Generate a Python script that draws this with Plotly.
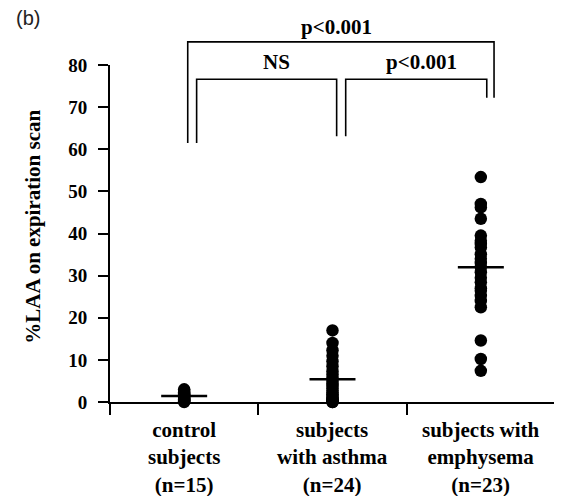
import plotly.graph_objects as go

# ---- data ----
categories = ["control<br>subjects<br>(n=15)",
              "subjects<br>with asthma<br>(n=24)",
              "subjects with<br>emphysema<br>(n=23)"]
control = [3.0, 2.6, 2.3, 2.0, 1.8, 1.6, 1.4, 1.2, 1.0, 0.8, 0.6, 0.5, 0.3, 0.2, 0.0]
asthma = [17.0, 14.0, 12.3, 11.0, 9.7, 8.5, 7.3, 6.5, 5.8, 5.0, 4.4, 3.8,
          3.2, 2.7, 2.2, 1.8, 1.4, 1.0, 0.7, 0.5, 0.3, 0.2, 0.0, 0.0]
emphysema = [53.4, 47.0, 46.2, 43.5, 39.5, 38.3, 37.5, 36.7, 35.1, 34.0, 33.0, 32.0,
             30.8, 29.5, 28.4, 27.0, 26.4, 25.2, 24.0, 22.5, 14.6, 10.2, 7.4]
group_means = [1.4, 5.4, 32.0]
y_ticks = [0, 10, 20, 30, 40, 50, 60, 70, 80]
y_title = "%LAA on expiration scan"
panel_label = "(b)"
sig_labels = ["p<0.001", "NS", "p<0.001"]

# ---- layout helpers ----
Y0, Y1 = 0, 80
cat_x = [0.5, 1.5, 2.5]
boundaries = [0, 1, 2, 3]


def yp(v):
    return (v - Y0) / (Y1 - Y0)


SERIF = "Liberation Serif"
fig = go.Figure()

for cx, vals in zip(cat_x, [control, asthma, emphysema]):
    fig.add_trace(go.Scatter(
        x=[cx] * len(vals), y=vals, mode="markers",
        marker=dict(color="black", size=12.5, line=dict(width=0)),
        cliponaxis=False, showlegend=False, hoverinfo="y"))

half = 0.155
for cx, m in zip(cat_x, group_means):
    fig.add_trace(go.Scatter(
        x=[cx - half, cx + half], y=[m, m], mode="lines",
        line=dict(color="black", width=2.5),
        cliponaxis=False, showlegend=False, hoverinfo="skip"))

# brackets: (x_left, x_right, y_top, y_left_bottom, y_right_bottom)
brackets = [
    (0.524, 2.589, 85.5, 61.5, 72.2),
    (0.584, 1.528, 76.6, 61.5, 63.1),
    (1.589, 2.540, 76.6, 63.1, 72.2),
]
for xl, xr, yt, ylb, yrb in brackets:
    fig.add_shape(type="path", xref="x", yref="paper",
                  path=f"M {xl},{yp(ylb)} L {xl},{yp(yt)} L {xr},{yp(yt)} L {xr},{yp(yrb)}",
                  line=dict(color="black", width=1.6))

sig_pos = [(1.528, 89.0), (1.12, 80.6), (2.10, 80.6)]
for (sx, sy), txt in zip(sig_pos, sig_labels):
    fig.add_annotation(x=sx, y=yp(sy), xref="x", yref="paper", text=txt,
                       showarrow=False, xanchor="center", yanchor="middle",
                       font=dict(family=SERIF, size=21, color="black", weight="bold"))

for cx, lab in zip(cat_x, categories):
    fig.add_annotation(x=cx, y=-0.042, xref="x", yref="paper", text=lab,
                       showarrow=False, xanchor="center", yanchor="top",
                       font=dict(family=SERIF, size=21, color="black", weight="bold"))

fig.add_annotation(x=-0.173, y=0.52, xref="paper", yref="paper", text=y_title,
                   textangle=-90, showarrow=False, xanchor="center", yanchor="middle",
                   font=dict(family=SERIF, size=21, color="black", weight="bold"))

fig.add_annotation(x=-0.185, y=1.14, xref="paper", yref="paper", text=panel_label,
                   showarrow=False, xanchor="center", yanchor="middle",
                   font=dict(family="Liberation Sans", size=20, color="#222"))

fig.update_xaxes(range=[0, 3], showgrid=False, zeroline=False,
                 showline=True, linecolor="black", linewidth=2,
                 tickvals=boundaries, ticktext=["", "", "", ""],
                 ticks="outside", ticklen=11, tickwidth=2, tickcolor="black")
fig.update_yaxes(range=[Y0, Y1], showgrid=False, zeroline=False,
                 showline=True, linecolor="black", linewidth=2,
                 tickvals=y_ticks, ticks="outside", ticklen=10, tickwidth=2,
                 tickcolor="black", ticklabelstandoff=7,
                 tickfont=dict(family=SERIF, size=19, color="black", weight="bold"))

fig.update_layout(width=562, height=496,
                  margin=dict(l=102, r=15, t=57, b=102),
                  paper_bgcolor="white", plot_bgcolor="white",
                  showlegend=False)

fig.write_html("out.html")
